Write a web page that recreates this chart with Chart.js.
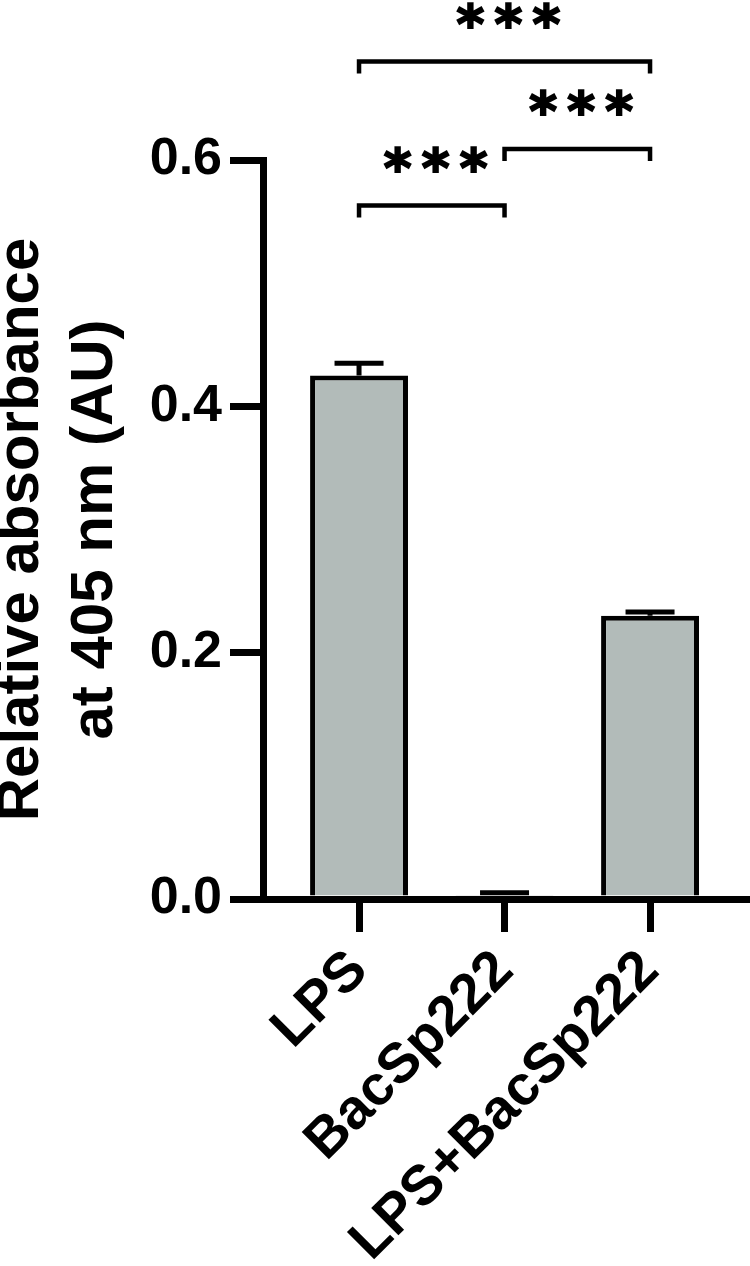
<!DOCTYPE html>
<html>
<head>
<meta charset="utf-8">
<script src="https://cdn.jsdelivr.net/npm/chart.js@4"></script>
<style>
html, body { margin: 0; padding: 0; background: #fff; }
</style>
</head>
<body>
<canvas id="absorbance-chart" width="750" height="1266"></canvas>
<script>
// data
const groups = ['LPS', 'BacSp222', 'LPS+BacSp222'];
const means = [0.425, 0.003, 0.230];
const errTops = [0.435, 0.005, 0.233];
const yTicks = [0.0, 0.2, 0.4, 0.6];

// significance brackets: from group, to group, bracket level (axis units), label
const compFrom = [0, 1, 0];
const compTo = [2, 2, 1];
const compY = [0.680, 0.609, 0.563];
const compText = ['***', '***', '***'];

const FONT = '"Liberation Sans", Arial, sans-serif';
const STAR_FONT = '"DejaVu Sans", sans-serif';

//draws the error bars and the significance brackets on top of the bars
const extras = {
  id: 'extras',
  afterDatasetsDraw(chart) {
    const ctx = chart.ctx;
    const x = chart.scales.x;
    const y = chart.scales.y;
    ctx.save();
    ctx.strokeStyle = '#000';
    ctx.fillStyle = '#000';
    ctx.lineCap = 'butt';
    ctx.lineJoin = 'miter';

    // error bars
    ctx.lineWidth = 5;
    means.forEach((m, i) => {
      const px = x.getPixelForValue(i + 1);
      const top = y.getPixelForValue(errTops[i]);
      const base = y.getPixelForValue(m);
      ctx.beginPath();
      ctx.moveTo(px, base);
      ctx.lineTo(px, top);
      ctx.moveTo(px - 24.5, top);
      ctx.lineTo(px + 24.5, top);
      ctx.stroke();
    });

    // brackets + stars
    ctx.textAlign = 'center';
    ctx.textBaseline = 'alphabetic';
    compY.forEach((lvl, k) => {
      const x1 = x.getPixelForValue(compFrom[k] + 1);
      const x2 = x.getPixelForValue(compTo[k] + 1);
      const yb = y.getPixelForValue(lvl);
      ctx.lineWidth = 4.5;
      ctx.beginPath();
      ctx.moveTo(x1, yb + 12);
      ctx.lineTo(x1, yb);
      ctx.lineTo(x2, yb);
      ctx.lineTo(x2, yb + 12);
      ctx.stroke();

      // size the glyph so one star is ~26px wide, then centre its ink
      ctx.font = 'bold 100px ' + STAR_FONT;
      let m = ctx.measureText('*');
      const size = 100 * 26 / (m.actualBoundingBoxLeft + m.actualBoundingBoxRight);
      ctx.font = 'bold ' + size.toFixed(1) + 'px ' + STAR_FONT;
      m = ctx.measureText('*');
      const cy = yb - 46;
      const baseY = cy + (m.actualBoundingBoxAscent - m.actualBoundingBoxDescent) / 2;
      const cx = (x1 + x2) / 2 + 4;
      const inkShift = (m.actualBoundingBoxLeft - m.actualBoundingBoxRight) / 2;
      const stars = compText[k].split('');
      ctx.lineWidth = 2;
      stars.forEach((s, j) => {
        const sx = cx + (j - (stars.length - 1) / 2) * 38 + inkShift;
        ctx.fillText(s, sx, baseY);
        ctx.strokeText(s, sx, baseY);
      });
    });
    ctx.restore();
  }
};

new Chart(document.getElementById('absorbance-chart'), {
  type: 'bar',
  data: {
    datasets: [{
      data: means.map((v, i) => ({x: i + 1, y: v})),
      backgroundColor: '#b2bbb9',
      borderColor: '#000',
      borderWidth: 5,
      barPercentage: 0.673,
      categoryPercentage: 1
    }]
  },
  options: {
    responsive: false,
    animation: false,
    layout: {padding: {top: 160, right: 0, bottom: 0, left: 0}},
    plugins: {
      legend: {display: false},
      tooltip: {enabled: false}
    },
    scales: {
      x: {
        type: 'linear',
        offset: false,
        min: 0.34,
        max: 3.687,
        afterBuildTicks: s => { s.ticks = groups.map((g, i) => ({value: i + 1})); },
        afterFit: s => { s.height = 367; },
        grid: {offset: false, drawOnChartArea: false, color: '#000', lineWidth: 7, tickLength: 33, tickWidth: 7, tickColor: '#000'},
        border: {display: true, color: '#000', width: 7},
        ticks: {
          callback: v => groups[v - 1],
          minRotation: 45,
          maxRotation: 45,
          autoSkip: false,
          padding: 6,
          color: '#000',
          font: {family: FONT, size: 56, weight: 'bold'}
        }
      },
      y: {
        min: 0,
        max: 0.6,
        afterBuildTicks: s => { s.ticks = yTicks.map(v => ({value: v})); },
        afterFit: s => { s.width = 263; },
        grid: {drawOnChartArea: false, color: '#000', lineWidth: 7, tickLength: 33, tickWidth: 7, tickColor: '#000'},
        border: {display: true, color: '#000', width: 7},
        ticks: {
          callback: v => v.toFixed(1),
          padding: 8,
          color: '#000',
          font: {family: FONT, size: 52, weight: 'bold'}
        },
        title: {
          display: true,
          text: ['Relative absorbance', 'at 405 nm (AU)'],
          color: '#000',
          padding: {top: -15, bottom: 0},
          font: {family: FONT, size: 60, weight: 'bold', lineHeight: 1.225}
        }
      }
    }
  },
  plugins: [extras]
});
</script>
</body>
</html>
